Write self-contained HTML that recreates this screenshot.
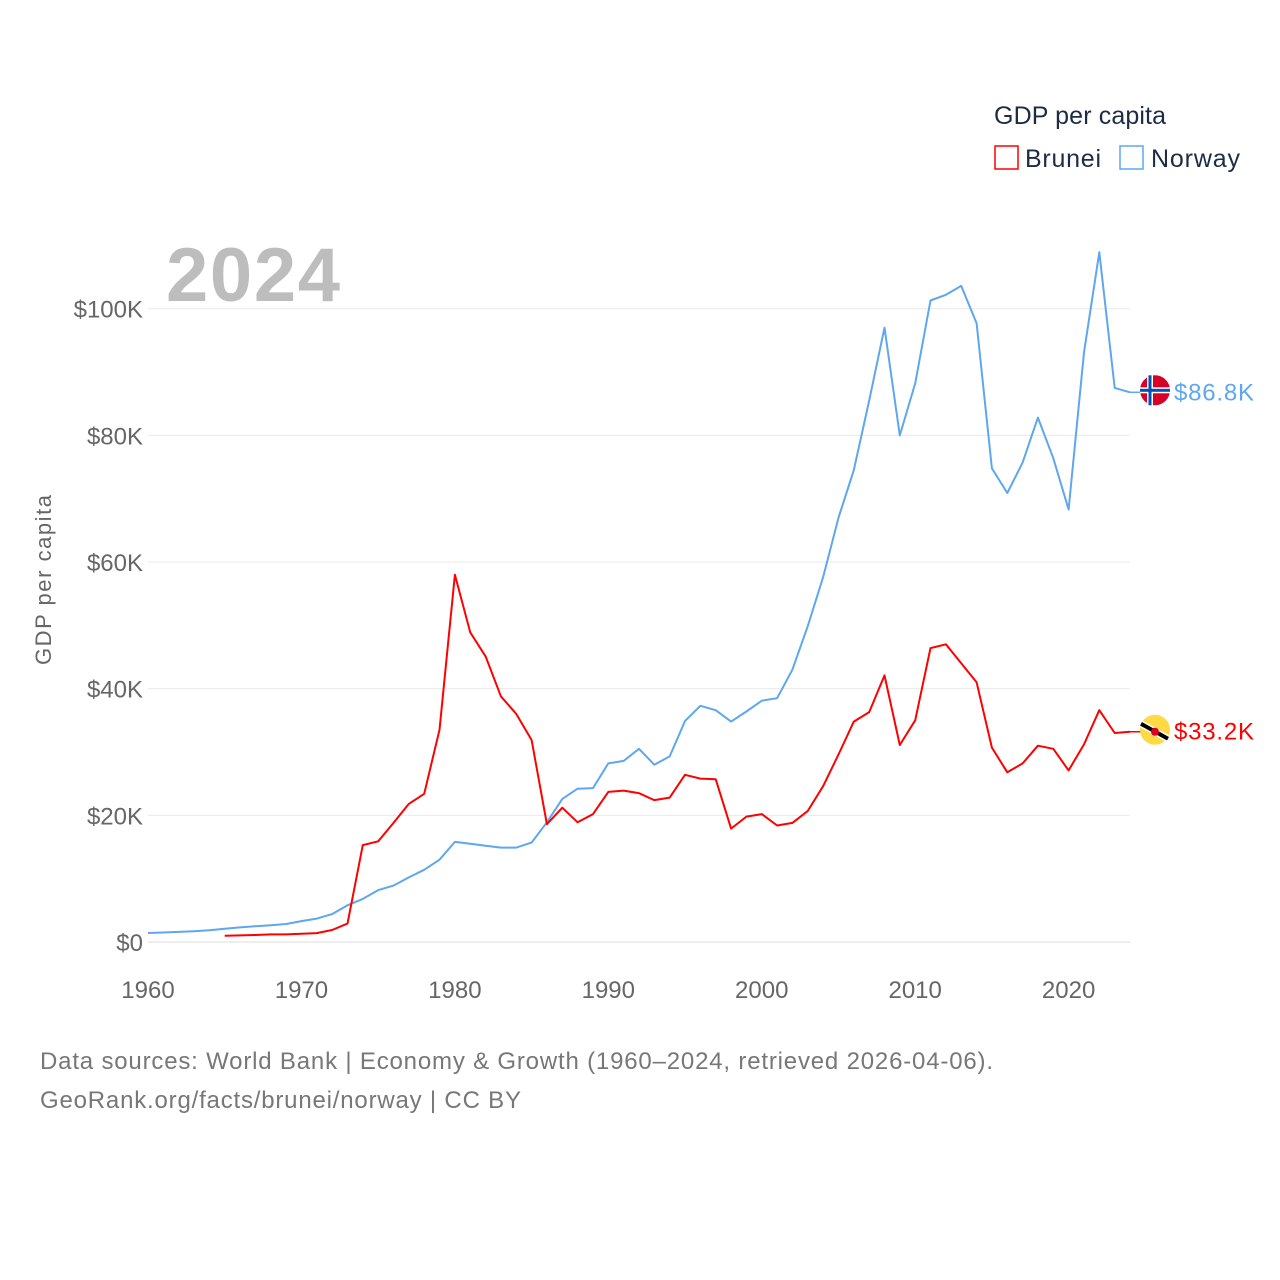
<!DOCTYPE html>
<html><head><meta charset="utf-8"><style>
body{margin:0;background:#fff}
svg{display:block;font-family:"Liberation Sans",sans-serif}
</style></head><body>
<svg id="chart" width="1280" height="1280">
<text x="994" y="124" font-size="25" fill="#1d2b45" textLength="172">GDP per capita</text>
<g><rect x="995" y="146" width="23" height="23" fill="none" stroke="#f00" stroke-width="1.5"/><text x="1025" y="167" font-size="25" fill="#1d2b45" textLength="76">Brunei</text></g>
<g><rect x="1120" y="146" width="23" height="23" fill="none" stroke="#5ea7ee" stroke-width="1.5"/><text x="1151" y="167" font-size="25" fill="#1d2b45" textLength="89">Norway</text></g>
<text x="166" y="301" font-size="76" font-weight="bold" fill="#bdbdbd" textLength="174">2024</text>
<text transform="translate(51,580) rotate(-90)" text-anchor="middle" font-size="22" fill="#666" textLength="170">GDP per capita</text>
<g id="grid"></g><g id="lines"></g>
<text x="40" y="1069" font-size="24" fill="#777" textLength="953">Data sources: World Bank | Economy &amp; Growth (1960–2024, retrieved 2026-04-06).</text>
<text x="40" y="1108" font-size="24" fill="#777" textLength="481">GeoRank.org/facts/brunei/norway | CC BY</text>
</svg>
<script>
const yTicks=[0,20,40,60,80,100];
const yTickLabels=["$0","$20K","$40K","$60K","$80K","$100K"];
const xTicks=[1960,1970,1980,1990,2000,2010,2020];
const norwayStart=1960;
const norway=[1.42,1.5,1.6,1.7,1.85,2.1,2.3,2.5,2.65,2.85,3.3,3.7,4.4,5.8,6.8,8.2,8.9,10.2,11.4,13.0,15.8,15.5,15.2,14.9,14.9,15.7,18.9,22.6,24.2,24.3,28.2,28.6,30.5,28.0,29.3,34.9,37.3,36.6,34.8,36.4,38.1,38.5,43.0,49.9,57.6,67.0,74.5,85.5,97.0,80.0,88.2,101.3,102.2,103.6,97.7,74.8,70.9,75.7,82.8,76.4,68.3,93.1,108.9,87.5,86.8];
const bruneiStart=1965;
const brunei=[1.0,1.05,1.1,1.2,1.2,1.3,1.4,1.9,2.9,15.3,15.9,18.8,21.8,23.4,33.5,58.0,48.9,45.1,38.8,36.0,31.9,18.6,21.2,18.9,20.2,23.7,23.9,23.5,22.4,22.8,26.4,25.8,25.7,17.9,19.8,20.2,18.4,18.8,20.7,24.6,29.6,34.8,36.3,42.1,31.1,35.0,46.4,47.0,44.0,41.0,30.7,26.8,28.2,31.0,30.5,27.1,31.2,36.6,33.0,33.2];
const X=y=>148+(y-1960)*(1130-148)/64;
const Y=v=>942-v*6.333;
const NS="http://www.w3.org/2000/svg";
const grid=document.getElementById('grid'),lines=document.getElementById('lines');
function mk(t,a,p){const e=document.createElementNS(NS,t);for(const k in a)e.setAttribute(k,a[k]);p.appendChild(e);return e;}
yTicks.forEach((v,i)=>{
 const l=mk('line',{x1:148,x2:1130,y1:Y(v),y2:Y(v),stroke:i==0?'#ddd':'#eaeaea','stroke-width':1},grid);
 
 
 const t=mk('text',{x:143,y:Y(v)+9,'text-anchor':'end','font-size':24,fill:'#666'},grid);t.textContent=yTickLabels[i];
 
 
});
xTicks.forEach(v=>{
 const t=mk('text',{x:X(v),y:998,'text-anchor':'middle','font-size':24,fill:'#666'},grid);t.textContent=v;
 
 
});
function series(arr,start,color,name,label){
 const pts=arr.map((v,i)=>X(start+i).toFixed(1)+','+Y(v).toFixed(1)).join(' ');
 const p=mk('polyline',{points:pts,fill:'none',stroke:color,'stroke-width':2,'stroke-linejoin':'round'},lines);
 
 
 const last=arr[arr.length-1],ly=Y(last);
 mk('line',{x1:1130,x2:1142,y1:ly,y2:ly,stroke:color,'stroke-width':1.5},lines);
 const t=mk('text',{x:1174,y:ly+8,'font-size':24,fill:color,textLength:80},lines);t.textContent=label;
 
 
 return ly;
}
const ny=series(norway,norwayStart,'#5ea7ee','norway','$86.8K')-2;
const by=series(brunei,bruneiStart,'#ff0000','brunei','$33.2K')-2;
let g=mk('g',{},lines);


mk('circle',{cx:1155,cy:ny,r:15,fill:'#d80027'},g);
mk('rect',{x:1140,y:ny-3,width:30,height:6,fill:'#fff'},g);
mk('rect',{x:1147,y:ny-15,width:6,height:30,fill:'#fff'},g);
mk('rect',{x:1140,y:ny-1.5,width:30,height:3,fill:'#0052b4'},g);
mk('rect',{x:1148.5,y:ny-15,width:3,height:30,fill:'#0052b4'},g);
g=mk('g',{},lines);


mk('circle',{cx:1155,cy:by,r:15,fill:'#ffda44'},g);
mk('line',{x1:1141,y1:by-6,x2:1168,y2:by+9,stroke:'#fff',"stroke-width":7},g);
mk('line',{x1:1141,y1:by-6,x2:1168,y2:by+9,stroke:'#000',"stroke-width":4},g);
mk('circle',{cx:1155,cy:by+2,r:4,fill:'#d80027'},g);
</script>
</body></html>
